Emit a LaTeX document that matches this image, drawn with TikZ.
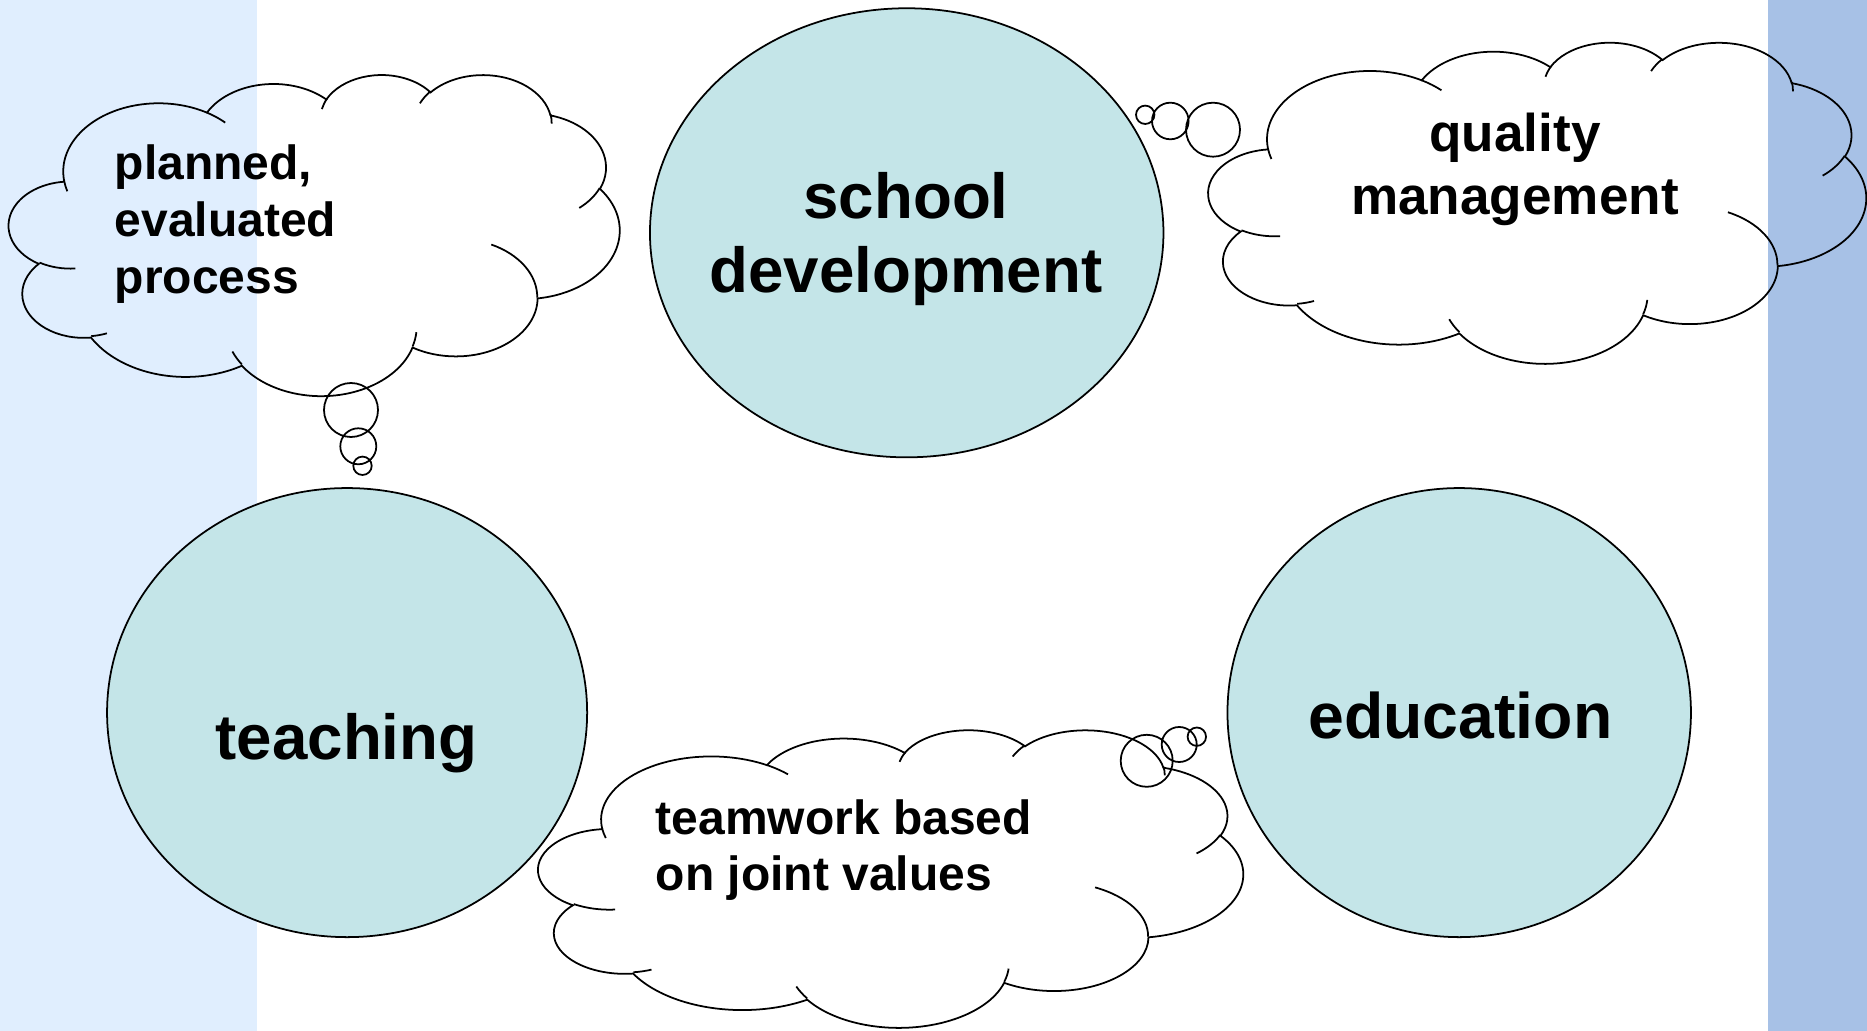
\documentclass[tikz,border=0pt]{standalone}
\usepackage{fontspec}
\setmainfont{Liberation Sans}
\usetikzlibrary{shapes.geometric}
\definecolor{leftstrip}{HTML}{E0EEFE}
\definecolor{rightstrip}{HTML}{A7C1E6}
\definecolor{ellfill}{HTML}{C4E5E8}
% DrawingML-style arc: radii, visual start angle, visual sweep (degrees)
\newcommand{\carc}[4]{arc[x radius=#1, y radius=#2, start angle={atan2((#1)*sin(#3),(#2)*cos(#3))}, delta angle={mod(atan2((#1)*sin((#3)+(#4)),(#2)*cos((#3)+(#4)))-atan2((#1)*sin(#3),(#2)*cos(#3))+720,360)}]}
\newcommand{\ctext}[1]{\vtop{\halign{\hfil##\hfil\cr#1\crcr}}}
\newcommand{\ltext}[1]{\vtop{\halign{##\hfil\cr#1\crcr}}}
\newcommand{\cloudshape}[4]{%
 \begin{scope}[shift={(#1,#2)}, xscale=#3/100, yscale=#4/100]
  \draw[cloudline] (9.028,33.264)
   \carc{15.632}{21.273}{-190.4875}{123.7805}
   \carc{12.345}{16.822}{-144.1024}{89.9452}
   \carc{10.104}{13.762}{-145.8079}{99.7230}
   \carc{11.243}{15.266}{-130.9861}{117.2417}
   \carc{12.345}{16.836}{-78.7089}{109.0269}
   \carc{15.683}{21.343}{-46.2673}{130.2690}
   \carc{13.391}{18.211}{0.6250}{114.0333}
   \carc{15.630}{21.331}{22.4516}{115.1726}
   \carc{17.870}{24.405}{66.2426}{75.7110}
   \carc{10.093}{13.699}{-274.9421}{146.7356}
   \carc{10.058}{13.762}{-246.8285}{152.5189}
   -- cycle;
  \draw[cloudline]
   (10.863,60.595) \carc{10.058}{13.762}{86.742}{26.4295}
   (16.037,80.785) \carc{10.093}{13.699}{73.6105}{11.4475}
   (38.144,90.486) \carc{15.630}{21.331}{137.6242}{14.0811}
   (66.729,80.442) \carc{15.630}{21.331}{6.4533}{15.9984}
   (79.002,53.134) \carc{13.391}{18.211}{-70.2924}{70.9174}
   (96.755,35.542) \carc{12.345}{16.836}{30.3180}{27.7515}
   (88.713,12.560) \carc{11.243}{15.266}{-13.7443}{14.8604}
   (67.310,9.148) \carc{11.243}{15.266}{-149.1815}{18.1846}
   (51.252,10.926) \carc{10.104}{13.762}{-163.4943}{17.6864}
   (32.407,12.019) \carc{15.632}{21.273}{-66.7070}{12.3194}
   (9.553,36.549) \carc{15.632}{21.273}{157.6544}{11.8582};
 \end{scope}}
\tikzset{
 cloudline/.style={draw=black, line width=0.5pt},
 topic/.style={ellipse, draw=black, line width=0.5pt, fill=ellfill, inner sep=0pt},
 bigtxt/.style={inner sep=0pt, anchor=base, font=\fontsize{18.1pt}{21pt}\selectfont\bfseries},
 smalltxt/.style={inner sep=0pt, anchor=base west, font=\fontsize{13.65pt}{16.2pt}\selectfont\bfseries},
 qualtxt/.style={inner sep=0pt, anchor=base, font=\fontsize{15.1pt}{17.9pt}\selectfont\bfseries},
}
\begin{document}
\begin{tikzpicture}[x=0.01cm, y=-0.01cm]
\useasboundingbox (0,0) rectangle (1867,1031);
\fill[white] (0,0) rectangle (1867,1031);
\fill[leftstrip] (0,0) rectangle (256.5,1031);
\fill[rightstrip] (1768,0) rectangle (1867,1031);

% topic ellipses
\node[topic, minimum width=5.132cm, minimum height=4.488cm] (school) at (906.7,232.8) {};
\node[topic, minimum width=4.798cm, minimum height=4.488cm] (teaching) at (347.1,712.6) {};
\node[topic, minimum width=4.632cm, minimum height=4.488cm] (education) at (1459.2,712.6) {};

\node[bigtxt] (schooltxt) at (906,219) {\ctext{school\cr development}};
\node[bigtxt] (teachtxt) at (346.5,759) {teaching};
\node[bigtxt, font=\fontsize{18.3pt}{21pt}\selectfont\bfseries] (edutxt) at (1460.5,738.5) {education};

% clouds
\cloudshape{9}{74}{610.5}{321}
\cloudshape{1208.6}{41.7}{657.4}{321}
\cloudshape{538.5}{729.3}{704.5}{297.5}

% thought bubbles
\draw[cloudline] (351,410) circle[radius=27] (358.3,446.3) circle[radius=18] (362.5,465.8) circle[radius=9.2];
\draw[cloudline] (1145.2,114.8) circle[radius=9.2] (1170.3,121) circle[radius=18.3] (1213,129.7) circle[radius=27];
\draw[cloudline] (1146.7,760.8) circle[radius=26] (1179.2,744.5) circle[radius=17.5] (1196.8,736.7) circle[radius=9.2];

\node[smalltxt] (plantxt) at (114,179.5) {\ltext{planned,\cr evaluated\cr process}};
\node[qualtxt] (qualtxt) at (1515,152) {\ctext{quality\cr management}};
\node[smalltxt] (teamtxt) at (655,834) {\ltext{teamwork based\cr on joint values}};
\end{tikzpicture}
\end{document}
